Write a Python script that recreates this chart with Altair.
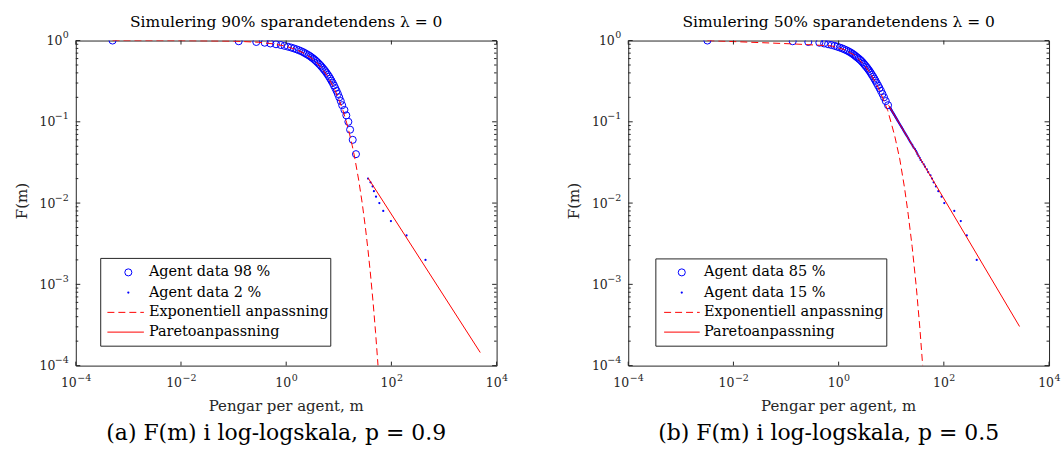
import altair as alt
import pandas as pd

# ---------------- data: panel (a), saving propensity 90 % ----------------
a_circle_m = [0.0005, 0.125, 0.27, 0.39, 0.50, 0.64, 0.79, 0.93, 1.08, 1.24,
              1.40, 1.57, 1.74, 1.92, 2.10, 2.27, 2.45, 2.66, 2.86, 3.05,
              3.27, 3.47, 3.70, 3.92, 4.16, 4.41, 4.66, 4.94, 5.23, 5.52,
              5.84, 6.18, 6.52, 6.88, 7.25, 7.68, 8.10, 8.56, 9.08, 9.62,
              10.2, 10.9, 11.6, 12.8, 13.9, 15.2, 16.4, 18.4, 21.2]
a_circle_f = [1.00, 0.98, 0.96, 0.94, 0.92, 0.90, 0.88, 0.86, 0.84, 0.82,
              0.80, 0.78, 0.76, 0.74, 0.72, 0.70, 0.68, 0.66, 0.64, 0.62,
              0.60, 0.58, 0.56, 0.54, 0.52, 0.50, 0.48, 0.46, 0.44, 0.42,
              0.40, 0.38, 0.36, 0.34, 0.32, 0.30, 0.28, 0.26, 0.24, 0.22,
              0.20, 0.18, 0.16, 0.14, 0.12, 0.10, 0.08, 0.06, 0.04]
a_dot_m = [36, 40, 44, 46.5, 51, 59, 70, 98, 194, 445]
a_dot_f = [0.020, 0.018, 0.016, 0.014, 0.012, 0.010, 0.008, 0.006, 0.004, 0.002]
a_exp_m = [0.0005, 0.01, 0.1, 0.3, 0.6, 1, 1.5, 2, 3, 4, 5, 6, 8, 10, 12, 14,
           16, 18, 20, 24, 28, 32, 36, 40, 45, 50, 55.7]
a_exp_f = [1.0, 0.998, 0.984, 0.952, 0.906, 0.848, 0.780, 0.718, 0.609, 0.516,
           0.438, 0.371, 0.266, 0.191, 0.138, 0.0989, 0.0710, 0.0510, 0.0367,
           0.0189, 0.00977, 0.00505, 0.00260, 0.00134, 0.000590, 0.000257, 0.0001]
a_par_m = [36, 4890]
a_par_f = [0.0204, 0.000145]

# ---------------- data: panel (b), saving propensity 50 % ----------------
b_circle_m = [0.0032, 0.134, 0.265, 0.43, 0.53, 0.63, 0.73, 0.84, 0.94, 1.05,
              1.17, 1.28, 1.40, 1.52, 1.64, 1.76, 1.88, 2.00, 2.12, 2.25,
              2.40, 2.55, 2.70, 2.85, 3.00, 3.15, 3.32, 3.50, 3.68, 3.88,
              4.08, 4.28, 4.52, 4.76, 5.02, 5.30, 5.62, 5.98, 6.38, 6.82,
              7.30, 7.88, 8.70]
b_circle_f = [1.00, 0.98, 0.96, 0.94, 0.92, 0.90, 0.88, 0.86, 0.84, 0.82,
              0.80, 0.78, 0.76, 0.74, 0.72, 0.70, 0.68, 0.66, 0.64, 0.62,
              0.60, 0.58, 0.56, 0.54, 0.52, 0.50, 0.48, 0.46, 0.44, 0.42,
              0.40, 0.38, 0.36, 0.34, 0.32, 0.30, 0.28, 0.26, 0.24, 0.22,
              0.20, 0.18, 0.16]
b_dot_m = [9.40, 9.58, 9.67, 9.79, 9.91, 10.02, 10.18, 10.31, 10.45, 10.60,
           10.75, 10.90, 11.06, 11.25, 11.39, 11.57, 11.74, 11.93, 12.12, 12.32,
           12.53, 12.74, 12.96, 13.15, 13.42, 13.67, 13.92, 14.19, 14.47, 14.75,
           15.05, 15.42, 15.69, 16.03, 16.39, 16.76, 17.15, 17.50, 18.00, 18.46,
           18.94, 19.45, 19.99, 20.70, 21.16, 21.81, 22.50, 23.23, 24.02, 25.10,
           25.76, 26.75, 28.30, 29.50, 30.60, 31.60, 33.00, 34.81, 36.20, 38.77,
           41.50, 43.79, 47.50, 50.44, 55.80, 59.60, 64.0, 70.8, 78.6, 90.6,
           102, 158, 210, 273, 422]
b_dot_f = [0.150, 0.148, 0.146, 0.144, 0.142, 0.140, 0.138, 0.136, 0.134, 0.132,
           0.130, 0.128, 0.126, 0.124, 0.122, 0.120, 0.118, 0.116, 0.114, 0.112,
           0.110, 0.108, 0.106, 0.104, 0.102, 0.100, 0.098, 0.096, 0.094, 0.092,
           0.090, 0.088, 0.086, 0.084, 0.082, 0.080, 0.078, 0.076, 0.074, 0.072,
           0.070, 0.068, 0.066, 0.064, 0.062, 0.060, 0.058, 0.056, 0.054, 0.052,
           0.050, 0.048, 0.046, 0.044, 0.042, 0.040, 0.038, 0.036, 0.034, 0.032,
           0.030, 0.028, 0.026, 0.024, 0.022, 0.020, 0.018, 0.016, 0.014, 0.012,
           0.010, 0.008, 0.006, 0.004, 0.002]
b_exp_m = [0.0032, 0.13, 0.73, 1.31, 2.0, 3.1, 4.2, 6.0, 8.6, 11.6, 14.5,
           17.9, 21.0, 25.0, 30.0, 35.0, 39.6]
b_exp_f = [1.0, 0.91, 0.86, 0.77, 0.66, 0.50, 0.375, 0.245, 0.137, 0.068,
           0.035, 0.0154, 0.0073, 0.0029, 0.00092, 0.00029, 0.0001]
b_par_m = [8.9, 2750]
b_par_f = [0.16, 0.000303]

# ---------------- axis ticks and tick labels (10 with exponent) ----------------
x_ticks = [1e-4, 1e-2, 1, 1e2, 1e4]
x_exps = ["−4", "−2", "0", "2", "4"]
y_major = [1e-4, 1e-3, 1e-2, 1e-1, 1]
y_exps = ["−4", "−3", "−2", "−1", "0"]
y_minor = [2e-4, 3e-4, 4e-4, 5e-4, 6e-4, 7e-4, 8e-4, 9e-4,
           2e-3, 3e-3, 4e-3, 5e-3, 6e-3, 7e-3, 8e-3, 9e-3,
           2e-2, 3e-2, 4e-2, 5e-2, 6e-2, 7e-2, 8e-2, 9e-2,
           2e-1, 3e-1, 4e-1, 5e-1, 6e-1, 7e-1, 8e-1, 9e-1]

W, H = 422, 326
FONT = "DejaVu Serif"
AX = "#262626"
BLUE = "#0000ff"
RED = "#ff0000"
BASE_SIZE = 12.5
EXP_SIZE = 9.5

XS = alt.Scale(type="log", domain=[1e-4, 1e4], nice=False)
YS = alt.Scale(type="log", domain=[1e-4, 1], nice=False)

ONE = pd.DataFrame({"k": [0]})


def X(field):
    return alt.X(f"{field}:Q", scale=XS, axis=None)


def Y(field):
    return alt.Y(f"{field}:Q", scale=YS, axis=None)


def txt(s, x, y, size, align="left", color="#000000", angle=0):
    return alt.Chart(ONE).mark_text(text=s, font=FONT, fontSize=size, color=color,
                                    align=align, baseline="middle", angle=angle).encode(
        x=alt.value(x), y=alt.value(y))


def tick_labels():
    """Power-of-ten labels drawn as '10' plus a raised exponent."""
    out = []
    xl = pd.DataFrame({"t": x_ticks, "e": x_exps})
    yl = pd.DataFrame({"t": y_major, "e": y_exps})
    for neg in (True, False):
        sub = xl[xl["e"].str.startswith("−") == neg]
        d10, dex = (1.0, 1.5) if neg else (5.0, 5.5)
        out.append(alt.Chart(sub).mark_text(text="10", font=FONT, fontSize=BASE_SIZE, color=AX,
                                            align="right", baseline="alphabetic", dx=d10).encode(
            x=X("t"), y=alt.value(H + 21)))
        out.append(alt.Chart(sub).mark_text(font=FONT, fontSize=EXP_SIZE, color=AX,
                                            align="left", baseline="alphabetic", dx=dex).encode(
            x=X("t"), y=alt.value(H + 15), text="e:N"))
        suby = yl[yl["e"].str.startswith("−") == neg]
        x10 = -20.5 if neg else -13.5
        out.append(alt.Chart(suby).mark_text(text="10", font=FONT, fontSize=BASE_SIZE, color=AX,
                                             align="right", baseline="alphabetic", dy=4.7).encode(
            y=Y("t"), x=alt.value(x10)))
        out.append(alt.Chart(suby).mark_text(font=FONT, fontSize=EXP_SIZE, color=AX,
                                             align="right", baseline="alphabetic", dy=-2.5).encode(
            y=Y("t"), x=alt.value(-7), text="e:N"))
    return out


def panel(cm, cf, dm, df_, em, ef, pm, pf, title, caption, labels, leg, bounds):
    circ = pd.DataFrame({"m": cm, "f": cf})
    dots = pd.DataFrame({"m": dm, "f": df_})
    expo = pd.DataFrame({"m": em, "f": ef})
    par = pd.DataFrame({"m": pm, "f": pf})

    layers = [
        alt.Chart(ONE).mark_rect(opacity=0).encode(
            x=alt.value(bounds[0]), x2=alt.value(bounds[1]),
            y=alt.value(-39), y2=alt.value(420)),
        alt.Chart(circ).mark_point(shape="circle", filled=False, size=50, strokeWidth=1,
                                   color=BLUE, opacity=1, clip=True).encode(x=X("m"), y=Y("f")),
        alt.Chart(dots).mark_point(shape="circle", filled=True, size=5,
                                   color=BLUE, opacity=1, clip=True).encode(x=X("m"), y=Y("f")),
        alt.Chart(expo).mark_line(color=RED, strokeWidth=1, strokeDash=[7, 4],
                                  clip=True).encode(x=X("m"), y=Y("f")),
        alt.Chart(par).mark_line(color=RED, strokeWidth=1, clip=True).encode(x=X("m"), y=Y("f")),
    ]

    # inward ticks on all four sides
    xt = pd.DataFrame({"t": x_ticks})
    for y0, y1 in [(H, H - 4), (0, 4)]:
        layers.append(alt.Chart(xt).mark_rule(color=AX, strokeWidth=1).encode(
            x=X("t"), y=alt.value(y0), y2=alt.value(y1)))
    for vals, ln in [(y_major, 4.5), (y_minor, 2.5)]:
        yt = pd.DataFrame({"t": vals})
        for x0, x1 in [(0, ln), (W - ln, W)]:
            layers.append(alt.Chart(yt).mark_rule(color=AX, strokeWidth=1).encode(
                y=Y("t"), x=alt.value(x0), x2=alt.value(x1)))

    layers += tick_labels()

    # axis titles
    layers.append(txt("Pengar per agent, m", W / 2, 367, 15, align="center", color=AX))
    layers.append(txt("F(m)", -54, H / 2 - 2, 15, align="center", color=AX, angle=270))

    # legend box
    bx0, by0, bx1, by1, sx, lx0, lx1, tx, rows = leg
    layers.append(alt.Chart(ONE).mark_rect(fill="white", stroke=AX, strokeWidth=1).encode(
        x=alt.value(bx0), x2=alt.value(bx1), y=alt.value(by0), y2=alt.value(by1)))
    layers.append(alt.Chart(ONE).mark_point(shape="circle", filled=False, size=50,
                                            strokeWidth=1, color=BLUE, opacity=1).encode(
        x=alt.value(sx), y=alt.value(rows[0])))
    layers.append(alt.Chart(ONE).mark_point(shape="circle", filled=True, size=5,
                                            color=BLUE, opacity=1).encode(
        x=alt.value(sx), y=alt.value(rows[1])))
    layers.append(alt.Chart(ONE).mark_rule(color=RED, strokeWidth=1, strokeDash=[7, 4]).encode(
        x=alt.value(lx0), x2=alt.value(lx1), y=alt.value(rows[2])))
    layers.append(alt.Chart(ONE).mark_rule(color=RED, strokeWidth=1).encode(
        x=alt.value(lx0), x2=alt.value(lx1), y=alt.value(rows[3])))
    for lab, ry in zip(labels, rows):
        layers.append(txt(lab, tx, ry, 14.5))

    layers.append(txt(title, W / 2, -19, 15.5, align="center"))
    layers.append(txt(caption, 201, 394, 22, align="center"))

    return alt.layer(*layers).properties(width=W, height=H)


left = panel(a_circle_m, a_circle_f, a_dot_m, a_dot_f, a_exp_m, a_exp_f, a_par_m, a_par_f,
             "Simulering 90% sparandetendens λ = 0",
             "(a) F(m) i log-logskala, p = 0.9",
             ["Agent data 98 %", "Agent data 2 %", "Exponentiell anpassning", "Paretoanpassning"],
             (25, 218.5, 255.7, 306.5, 52.7, 31.7, 68.3, 73.3, [232.5, 252.8, 272.6, 292.4]),
             (-75, W + 10))

right = panel(b_circle_m, b_circle_f, b_dot_m, b_dot_f, b_exp_m, b_exp_f, b_par_m, b_par_f,
              "Simulering 50% sparandetendens λ = 0",
              "(b) F(m) i log-logskala, p = 0.5",
              ["Agent data 85 %", "Agent data 15 %", "Exponentiell anpassning", "Paretoanpassning"],
              (27.7, 219, 259.3, 306.5, 53.7, 36, 71.7, 76, [232.5, 252.8, 272.6, 292.4]),
              (-10, 433))

chart = alt.hconcat(left, right, spacing=132, bounds="flush").properties(
    padding=0, background="white"
).configure_view(stroke=AX, strokeWidth=1)

chart.save("out.html", embed_options={"renderer": "svg", "actions": False})
